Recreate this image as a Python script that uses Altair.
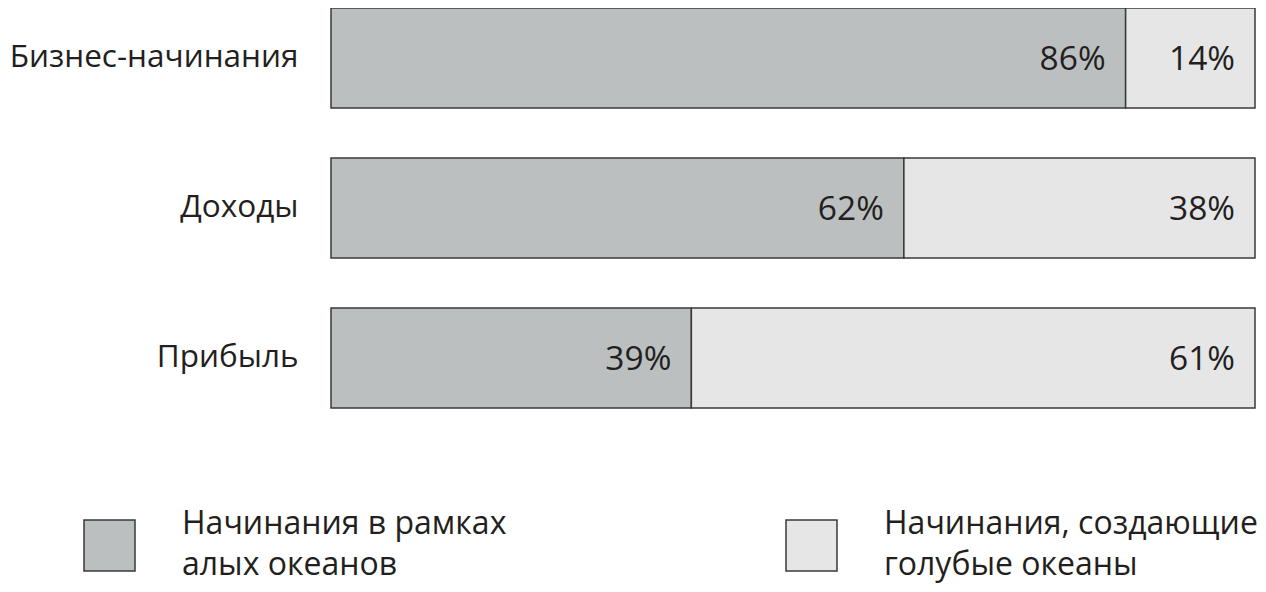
import altair as alt
import pandas as pd

categories = ["Бизнес-начинания", "Доходы", "Прибыль"]
red_ocean_values = [86, 62, 39]
blue_ocean_values = [14, 38, 61]
series_names = ["Начинания в рамках|алых океанов", "Начинания, создающие|голубые океаны"]
series_colors = ["#bbbfbf", "#e6e6e6"]

rows = []
for i, c in enumerate(categories):
    rows.append({"cat": c, "series": series_names[0], "value": red_ocean_values[i], "ord": 0})
    rows.append({"cat": c, "series": series_names[1], "value": blue_ocean_values[i], "ord": 1})
df = pd.DataFrame(rows)
legend_df = pd.DataFrame({"series": series_names})

FONT = "Open Sans"
TXT = "#231f20"
STROKE = "#3a3a3a"
FS = 33.5
LFS = 32

color_scale = alt.Scale(domain=series_names, range=series_colors)
x_scale = alt.Scale(domain=[0, 100], nice=False)

base = alt.Chart(df).transform_window(
    end="sum(value)", groupby=["cat"], sort=[alt.SortField("ord")], frame=[None, 0]
).transform_calculate(label="datum.value + '%'")

y_enc = alt.Y(
    "cat:N",
    sort=categories,
    scale=alt.Scale(paddingInner=1/3, paddingOuter=0),
    axis=alt.Axis(title=None, domain=False, ticks=False, labelFontSize=31.5,
                  labelPadding=33, labelColor=TXT, labelFont=FONT, labelLimit=0),
)

bars = base.mark_bar(stroke=STROKE, strokeWidth=1.5, opacity=1).encode(
    x=alt.X("value:Q", stack="zero", scale=x_scale, axis=None),
    y=y_enc,
    color=alt.Color("series:N", scale=color_scale, legend=None),
    order=alt.Order("ord:Q"),
)

texts = base.mark_text(align="right", baseline="middle", dx=-20, dy=2,
                       fontSize=FS, font=FONT, color=TXT).encode(
    x=alt.X("end:Q", scale=x_scale, axis=None),
    y=alt.Y("cat:N", sort=categories),
    text="label:N",
)

# legend built from the series list, placed with its own point scale
leg_x = alt.X("series:N", sort=series_names, axis=None,
              scale=alt.Scale(type="point", domain=series_names, range=[-221.5, 480.5], padding=0))

leg_sq = alt.Chart(legend_df).mark_square(
    size=2601, stroke=STROKE, strokeWidth=1.5, opacity=1, fillOpacity=1
).encode(
    x=leg_x,
    y=alt.value(537.5),
    color=alt.Color("series:N", scale=color_scale, legend=None),
)

leg_txt = alt.Chart(legend_df).mark_text(
    align="left", baseline="alphabetic", dx=72.5, lineBreak="|", lineHeight=41,
    fontSize=LFS, font=FONT, color=TXT,
).encode(
    x=leg_x,
    y=alt.value(526),
    text="series:N",
)

chart = alt.layer(
    alt.layer(bars, texts),
    alt.layer(leg_sq, leg_txt),
).resolve_scale(x="independent").properties(
    width=924, height=400,
    padding={"left": 323, "top": 0, "right": 3, "bottom": 176},
    autosize=alt.AutoSizeParams(type="none"),
).configure_view(stroke=None)

chart.save("out.html", embed_options={"renderer": "svg", "actions": False})
